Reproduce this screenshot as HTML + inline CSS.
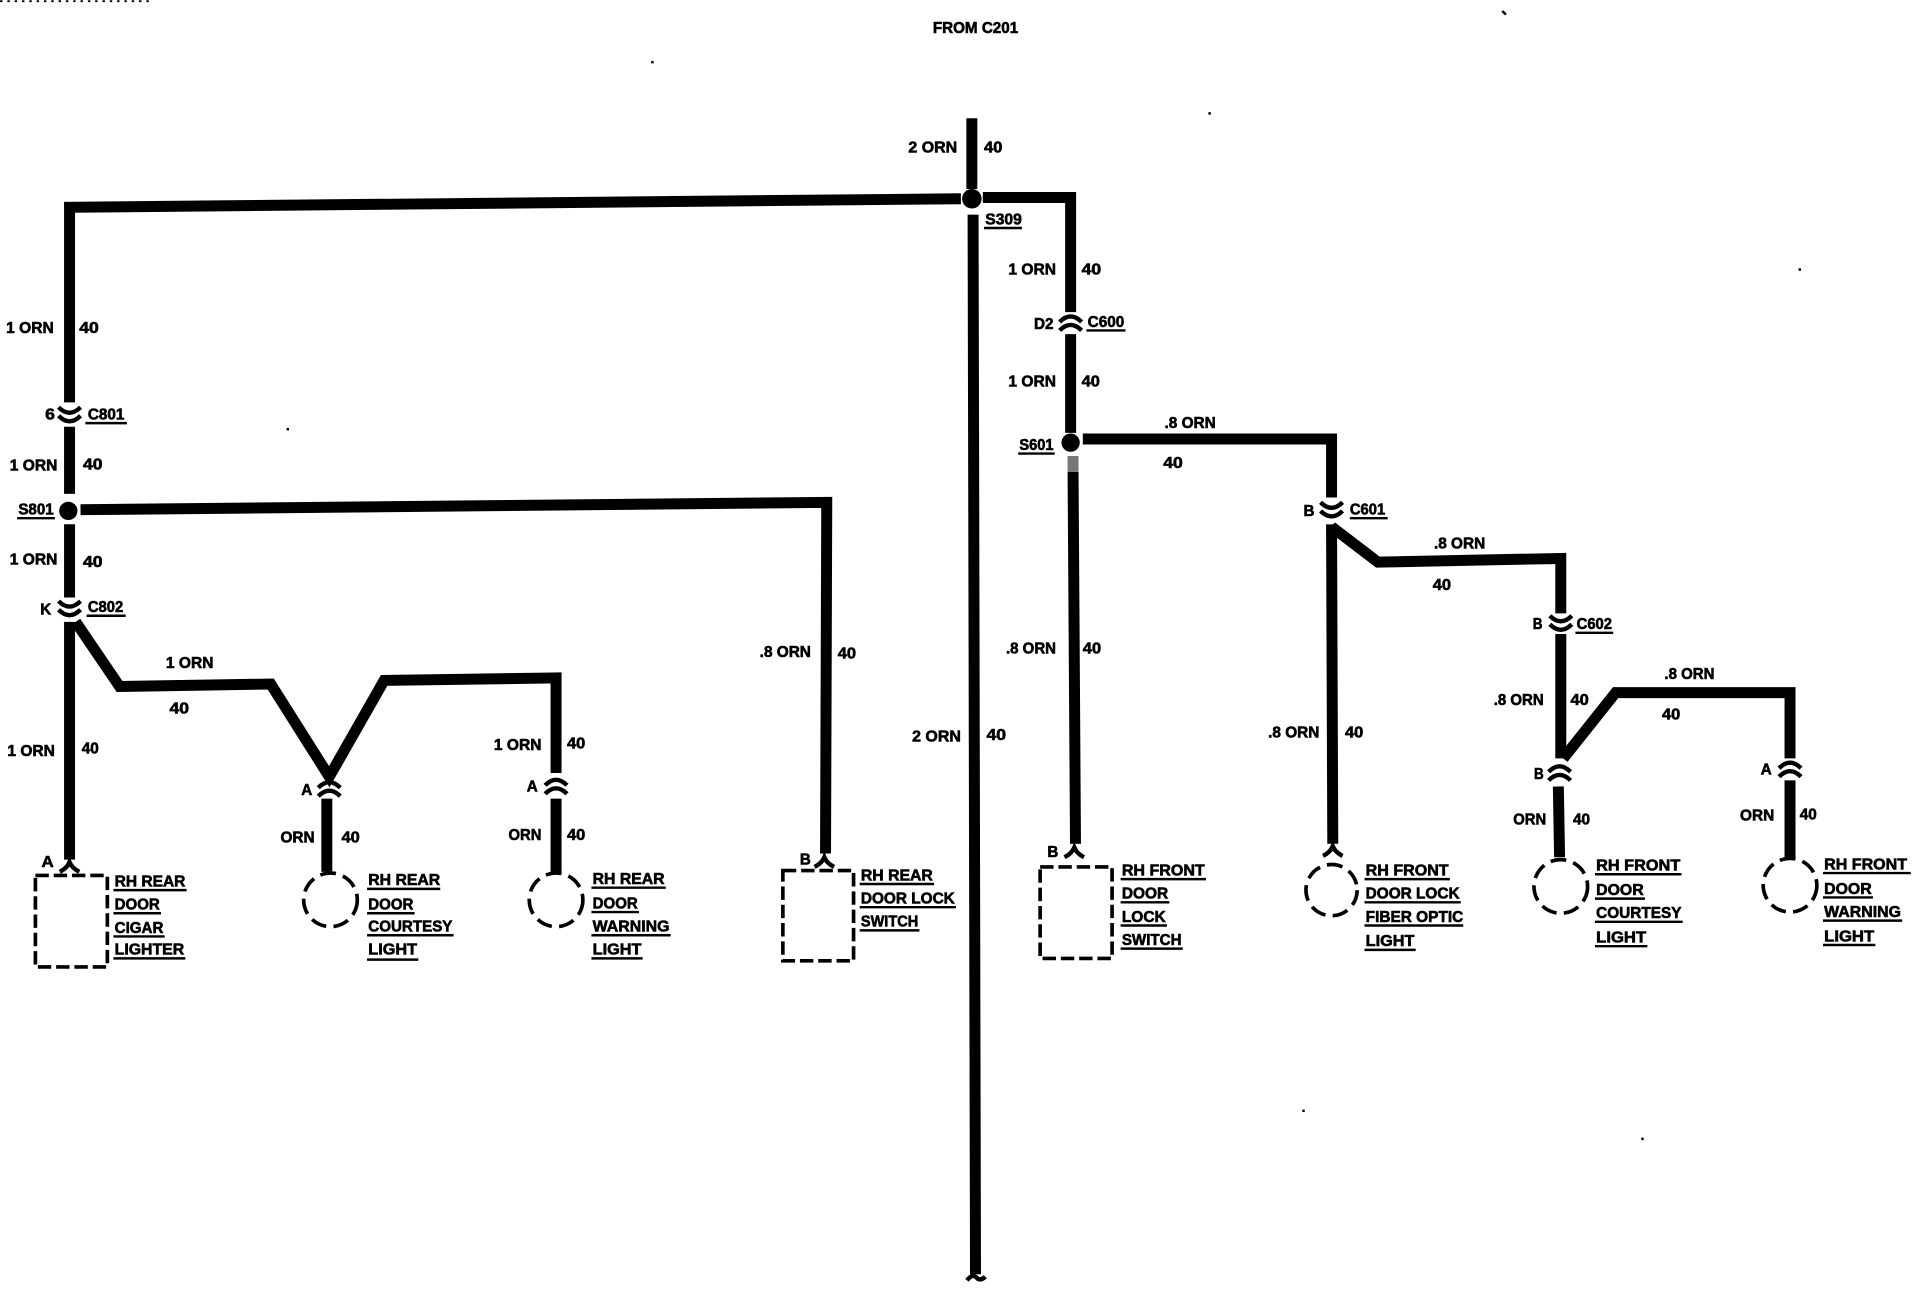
<!DOCTYPE html>
<html><head><meta charset="utf-8"><title>Wiring diagram</title>
<style>
html,body{margin:0;padding:0;background:#fff;width:1912px;height:1312px;overflow:hidden}
svg{display:block}
text{font-family:"Liberation Sans",sans-serif;font-weight:bold;font-size:13px;fill:#000;stroke:#000;stroke-width:.5}
.w{fill:none;stroke:#000;stroke-width:9;stroke-linejoin:miter}
.t{fill:none;stroke:#000;stroke-width:3.6}
.u{fill:none;stroke:#000;stroke-width:2}
.b{fill:none;stroke:#000;stroke-width:3;stroke-dasharray:11 4}
.c{fill:none;stroke:#000;stroke-width:3;stroke-dasharray:13 6}
</style></head><body>
<svg width="1912" height="1312" viewBox="0 0 1568 1076" xmlns="http://www.w3.org/2000/svg">
<defs>
<g id="cu"><path class="t" d="M-9 -6Q0 3 9 -6M-9 1Q0 10 9 1"/></g>
<g id="cn"><path class="t" d="M-9 -1Q0 -10 9 -1M-9 6Q0 -3 9 6"/></g>
<g id="ch"><path class="t" d="M-8 5Q-2 2 0 -3Q2 2 8 5"/></g>
</defs>
<!-- wires -->
<path class="w" d="M797 97V155"/>
<path class="w" d="M788 163L57 170V330"/>
<path class="w" d="M798 176L800 1045"/>
<path class="w" d="M806 162H878V256"/>
<path class="w" d="M878 274V355"/>
<path class="w" d="M888 360H1092V408"/>
<path class="w" d="M880 387L882 692"/>
<path stroke="#777" stroke-width="9" d="M880 374V387"/>
<path class="w" d="M1092 430L1093 692"/>
<path class="w" d="M1092 432L1130 461L1280 458V503"/>
<path class="w" d="M1280 520V622"/>
<path class="w" d="M1282 622L1325 568H1468V622"/>
<path class="w" d="M1468 640V703"/>
<path class="w" d="M1278 645L1279 703"/>
<path class="w" d="M57 350V405"/>
<path class="w" d="M66 418L678 412L677 700"/>
<path class="w" d="M57 430V490"/>
<path class="w" d="M57 510V705"/>
<path class="w" d="M62 510L98 563L222 561L270 637L315 558L456 556V634"/>
<path class="w" d="M268 655V715"/>
<path class="w" d="M456 655V715"/>
<!-- splices -->
<circle cx="797" cy="163" r="8"/>
<circle cx="878" cy="363" r="7.5"/>
<circle cx="56" cy="419" r="7.5"/>
<!-- connectors -->
<use href="#cn" x="878" y="265"/>
<use href="#cu" x="1092" y="418"/>
<use href="#cu" x="1280" y="511"/>
<use href="#cn" x="1279" y="634"/>
<use href="#cn" x="1468" y="631"/>
<use href="#cu" x="57" y="340"/>
<use href="#cu" x="57" y="499"/>
<use href="#cn" x="270" y="647"/>
<use href="#cn" x="456" y="645"/>
<use href="#ch" x="57" y="710"/>
<use href="#ch" x="676" y="706"/>
<use href="#ch" x="881" y="698"/>
<use href="#ch" x="1093" y="697"/>
<path class="t" d="M793 1050Q798 1044 801 1048Q804 1051 808 1047"/>
<!-- devices -->
<rect class="b" x="29" y="718" width="59" height="75"/>
<rect class="b" x="642" y="714" width="58" height="74"/>
<rect class="b" x="853" y="711" width="59" height="75"/>
<circle class="c" cx="271" cy="738" r="22"/>
<circle class="c" cx="456" cy="738" r="22"/>
<circle class="c" cx="1092" cy="730" r="21"/>
<circle class="c" cx="1280" cy="727" r="22"/>
<circle class="c" cx="1468" cy="726" r="22"/>
<!-- wire labels -->
<text x="765" y="27" textLength="70" lengthAdjust="spacingAndGlyphs">FROM C201</text>
<text x="745" y="125" textLength="40" lengthAdjust="spacingAndGlyphs">2 ORN</text>
<text x="807" y="125" textLength="15" lengthAdjust="spacingAndGlyphs">40</text>
<text x="808" y="184" textLength="30" lengthAdjust="spacingAndGlyphs">S309</text>
<text x="827" y="225" textLength="39" lengthAdjust="spacingAndGlyphs">1 ORN</text>
<text x="887" y="225" textLength="16" lengthAdjust="spacingAndGlyphs">40</text>
<text x="848" y="270" textLength="16" lengthAdjust="spacingAndGlyphs">D2</text>
<text x="892" y="268" textLength="30" lengthAdjust="spacingAndGlyphs">C600</text>
<text x="827" y="317" textLength="39" lengthAdjust="spacingAndGlyphs">1 ORN</text>
<text x="887" y="317" textLength="15" lengthAdjust="spacingAndGlyphs">40</text>
<text x="955" y="351" textLength="42" lengthAdjust="spacingAndGlyphs">.8 ORN</text>
<text x="954" y="384" textLength="16" lengthAdjust="spacingAndGlyphs">40</text>
<text x="836" y="369" textLength="28" lengthAdjust="spacingAndGlyphs">S601</text>
<text x="1069" y="423" textLength="9" lengthAdjust="spacingAndGlyphs">B</text>
<text x="1107" y="422" textLength="29" lengthAdjust="spacingAndGlyphs">C601</text>
<text x="1176" y="450" textLength="42" lengthAdjust="spacingAndGlyphs">.8 ORN</text>
<text x="1175" y="484" textLength="15" lengthAdjust="spacingAndGlyphs">40</text>
<text x="1257" y="516" textLength="8" lengthAdjust="spacingAndGlyphs">B</text>
<text x="1293" y="516" textLength="29" lengthAdjust="spacingAndGlyphs">C602</text>
<text x="1225" y="578" textLength="41" lengthAdjust="spacingAndGlyphs">.8 ORN</text>
<text x="1288" y="578" textLength="15" lengthAdjust="spacingAndGlyphs">40</text>
<text x="1365" y="557" textLength="41" lengthAdjust="spacingAndGlyphs">.8 ORN</text>
<text x="1363" y="590" textLength="15" lengthAdjust="spacingAndGlyphs">40</text>
<text x="1258" y="639" textLength="8" lengthAdjust="spacingAndGlyphs">B</text>
<text x="1444" y="635" textLength="9" lengthAdjust="spacingAndGlyphs">A</text>
<text x="1241" y="676" textLength="27" lengthAdjust="spacingAndGlyphs">ORN</text>
<text x="1290" y="676" textLength="14" lengthAdjust="spacingAndGlyphs">40</text>
<text x="1427" y="673" textLength="28" lengthAdjust="spacingAndGlyphs">ORN</text>
<text x="1476" y="672" textLength="14" lengthAdjust="spacingAndGlyphs">40</text>
<text x="1040" y="605" textLength="42" lengthAdjust="spacingAndGlyphs">.8 ORN</text>
<text x="1103" y="605" textLength="15" lengthAdjust="spacingAndGlyphs">40</text>
<text x="825" y="536" textLength="41" lengthAdjust="spacingAndGlyphs">.8 ORN</text>
<text x="888" y="536" textLength="15" lengthAdjust="spacingAndGlyphs">40</text>
<text x="859" y="703" textLength="9" lengthAdjust="spacingAndGlyphs">B</text>
<text x="748" y="608" textLength="40" lengthAdjust="spacingAndGlyphs">2 ORN</text>
<text x="809" y="607" textLength="16" lengthAdjust="spacingAndGlyphs">40</text>
<text x="623" y="539" textLength="42" lengthAdjust="spacingAndGlyphs">.8 ORN</text>
<text x="687" y="540" textLength="15" lengthAdjust="spacingAndGlyphs">40</text>
<text x="656" y="709" textLength="9" lengthAdjust="spacingAndGlyphs">B</text>
<text x="5" y="273" textLength="39" lengthAdjust="spacingAndGlyphs">1 ORN</text>
<text x="65" y="273" textLength="16" lengthAdjust="spacingAndGlyphs">40</text>
<text x="37" y="344" textLength="8" lengthAdjust="spacingAndGlyphs">6</text>
<text x="72" y="344" textLength="30" lengthAdjust="spacingAndGlyphs">C801</text>
<text x="8" y="386" textLength="39" lengthAdjust="spacingAndGlyphs">1 ORN</text>
<text x="68" y="385" textLength="16" lengthAdjust="spacingAndGlyphs">40</text>
<text x="15" y="422" textLength="29" lengthAdjust="spacingAndGlyphs">S801</text>
<text x="8" y="463" textLength="39" lengthAdjust="spacingAndGlyphs">1 ORN</text>
<text x="68" y="465" textLength="16" lengthAdjust="spacingAndGlyphs">40</text>
<text x="33" y="504" textLength="9" lengthAdjust="spacingAndGlyphs">K</text>
<text x="72" y="502" textLength="29" lengthAdjust="spacingAndGlyphs">C802</text>
<text x="136" y="548" textLength="39" lengthAdjust="spacingAndGlyphs">1 ORN</text>
<text x="139" y="585" textLength="16" lengthAdjust="spacingAndGlyphs">40</text>
<text x="6" y="620" textLength="39" lengthAdjust="spacingAndGlyphs">1 ORN</text>
<text x="67" y="618" textLength="14" lengthAdjust="spacingAndGlyphs">40</text>
<text x="34" y="711" textLength="10" lengthAdjust="spacingAndGlyphs">A</text>
<text x="247" y="652" textLength="9" lengthAdjust="spacingAndGlyphs">A</text>
<text x="230" y="691" textLength="28" lengthAdjust="spacingAndGlyphs">ORN</text>
<text x="280" y="691" textLength="15" lengthAdjust="spacingAndGlyphs">40</text>
<text x="405" y="615" textLength="39" lengthAdjust="spacingAndGlyphs">1 ORN</text>
<text x="465" y="614" textLength="15" lengthAdjust="spacingAndGlyphs">40</text>
<text x="432" y="649" textLength="9" lengthAdjust="spacingAndGlyphs">A</text>
<text x="417" y="689" textLength="27" lengthAdjust="spacingAndGlyphs">ORN</text>
<text x="465" y="689" textLength="15" lengthAdjust="spacingAndGlyphs">40</text>
<!-- component labels -->
<text x="94" y="727" textLength="58" lengthAdjust="spacingAndGlyphs">RH REAR</text>
<text x="94" y="746" textLength="37" lengthAdjust="spacingAndGlyphs">DOOR</text>
<text x="94" y="765" textLength="40" lengthAdjust="spacingAndGlyphs">CIGAR</text>
<text x="94" y="783" textLength="57" lengthAdjust="spacingAndGlyphs">LIGHTER</text>
<text x="302" y="726" textLength="59" lengthAdjust="spacingAndGlyphs">RH REAR</text>
<text x="302" y="746" textLength="37" lengthAdjust="spacingAndGlyphs">DOOR</text>
<text x="302" y="764" textLength="69" lengthAdjust="spacingAndGlyphs">COURTESY</text>
<text x="302" y="783" textLength="40" lengthAdjust="spacingAndGlyphs">LIGHT</text>
<text x="486" y="725" textLength="59" lengthAdjust="spacingAndGlyphs">RH REAR</text>
<text x="486" y="745" textLength="37" lengthAdjust="spacingAndGlyphs">DOOR</text>
<text x="486" y="764" textLength="63" lengthAdjust="spacingAndGlyphs">WARNING</text>
<text x="486" y="783" textLength="40" lengthAdjust="spacingAndGlyphs">LIGHT</text>
<text x="706" y="722" textLength="59" lengthAdjust="spacingAndGlyphs">RH REAR</text>
<text x="706" y="741" textLength="77" lengthAdjust="spacingAndGlyphs">DOOR LOCK</text>
<text x="706" y="760" textLength="47" lengthAdjust="spacingAndGlyphs">SWITCH</text>
<text x="920" y="718" textLength="68" lengthAdjust="spacingAndGlyphs">RH FRONT</text>
<text x="920" y="737" textLength="38" lengthAdjust="spacingAndGlyphs">DOOR</text>
<text x="920" y="756" textLength="36" lengthAdjust="spacingAndGlyphs">LOCK</text>
<text x="920" y="775" textLength="49" lengthAdjust="spacingAndGlyphs">SWITCH</text>
<text x="1120" y="718" textLength="68" lengthAdjust="spacingAndGlyphs">RH FRONT</text>
<text x="1120" y="737" textLength="77" lengthAdjust="spacingAndGlyphs">DOOR LOCK</text>
<text x="1120" y="756" textLength="80" lengthAdjust="spacingAndGlyphs">FIBER OPTIC</text>
<text x="1120" y="776" textLength="40" lengthAdjust="spacingAndGlyphs">LIGHT</text>
<text x="1309" y="714" textLength="69" lengthAdjust="spacingAndGlyphs">RH FRONT</text>
<text x="1309" y="734" textLength="39" lengthAdjust="spacingAndGlyphs">DOOR</text>
<text x="1309" y="753" textLength="70" lengthAdjust="spacingAndGlyphs">COURTESY</text>
<text x="1309" y="773" textLength="41" lengthAdjust="spacingAndGlyphs">LIGHT</text>
<text x="1496" y="713" textLength="68" lengthAdjust="spacingAndGlyphs">RH FRONT</text>
<text x="1496" y="733" textLength="39" lengthAdjust="spacingAndGlyphs">DOOR</text>
<text x="1496" y="752" textLength="63" lengthAdjust="spacingAndGlyphs">WARNING</text>
<text x="1496" y="772" textLength="41" lengthAdjust="spacingAndGlyphs">LIGHT</text>
<!-- underlines -->
<path class="u" d="M807 187H838M891 271H923M835 372H865M1107 425H1138M1292 519H1323M70 347H104M14 425H45M71 505H103
M93 730H153M93 749H132M93 768H135M93 786H152
M301 729H361M301 749H340M301 767H372M301 787H343
M485 728H546M485 748H524M485 767H550M485 786H527
M705 725H766M705 744H784M705 763H754
M919 721H989M919 740H959M919 759H957M919 778H970
M1119 721H1189M1119 740H1198M1119 759H1200M1119 779H1161
M1308 717H1379M1308 737H1349M1308 756H1380M1308 776H1351
M1495 716H1567M1495 736H1536M1495 755H1560M1495 775H1538"/>
<!-- scan specks -->
<path stroke="#000" stroke-width="1.5" stroke-dasharray="2 4" d="M0 1H125"/>
<path stroke="#000" stroke-width="2" d="M534 51h2M991 93h2M235 352h2M1232 9l3 3M1475 221h2M1068 911h2M1346 934h2"/>
</svg>
</body></html>
